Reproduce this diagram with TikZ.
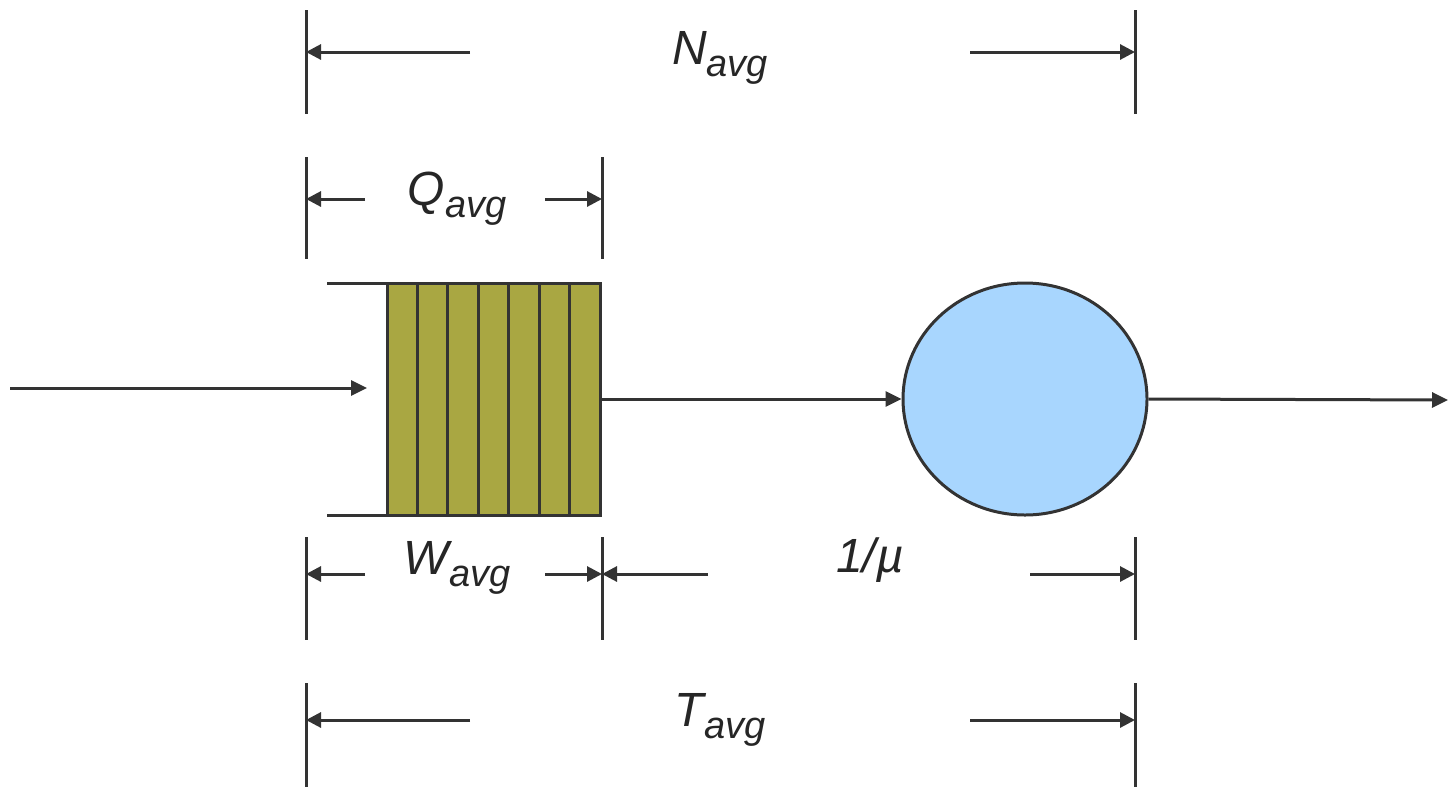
\documentclass[tikz,border=0pt]{standalone}
\usepackage{fontspec}
\setmainfont{Liberation Sans}
\usetikzlibrary{shapes.geometric, arrows.meta, positioning}

\definecolor{lineGray}{RGB}{51,51,51}
\definecolor{queueOlive}{RGB}{169,167,66}
\definecolor{serverBlue}{RGB}{168,214,254}

\newcommand{\dimlabel}[2]{\textit{\fontsize{48}{50}\selectfont #1\raisebox{-12pt}{\fontsize{38}{40}\selectfont #2}}}

\begin{document}
\begin{tikzpicture}[x=1pt, y=-1pt, color=lineGray,
        tick/.style={line width=3pt},
        dim/.style={-{Triangle[length=15pt,width=15pt]}, line width=3pt},
        flow/.style={-{Triangle[length=16pt,width=15pt]}, line width=3pt},
        lbl/.style={inner sep=0pt, text=black!85},
        queue/.style={rectangle, draw, fill=queueOlive, line width=3pt, outer sep=0pt,
            minimum width=213pt, minimum height=232pt, inner sep=0pt},
        server/.style={ellipse, draw, fill=serverBlue, line width=3pt,
            minimum width=244pt, minimum height=232pt, inner sep=0pt}
        ]
        \useasboundingbox (0,0) rectangle (1450,788);

        %% Queue and server
        \node[queue] (Q) at (493.5,399) {};
        \foreach \i in {1,...,6}
            \draw[tick] (387+\i*30.43,283) -- (387+\i*30.43,515);
        \draw[tick] (327,283) -- (Q.north west);
        \draw[tick] (327,515) -- (Q.south west);
        \node[server] (S) at (1025,399) {};

        %% Flow
        \coordinate (src) at (10,388);
        \coordinate (inEnd) at (367,388);
        \coordinate (sink) at (1448,400);
        \draw[flow] (src) -- (inEnd);
        \draw[flow] (Q.east) -- (S.west);
        \draw[flow] (S.east) -- (sink);

        %% Ticks
        \draw[tick] (306,10)   -- (306,114);
        \draw[tick] (1135,10)  -- (1135,114);
        \draw[tick] (306,157)  -- (306,259);
        \draw[tick] (602,157)  -- (602,259);
        \draw[tick] (306,537)  -- (306,640);
        \draw[tick] (602,537)  -- (602,640);
        \draw[tick] (1135,537) -- (1135,640);
        \draw[tick] (306,683)  -- (306,787);
        \draw[tick] (1135,683) -- (1135,787);

        %% ---- N_avg ----
        \coordinate (nL) at (306,52);   \coordinate (nLs) at (470,52);
        \coordinate (nR) at (1135,52);  \coordinate (nRs) at (970,52);
        \draw[dim] (nLs) -- (nL);
        \draw[dim] (nRs) -- (nR);
        \node[lbl] (nLbl) at (720,58) {\dimlabel{N}{avg}};

        %% ---- Q_avg ----
        \coordinate (qL) at (306,199);  \coordinate (qLs) at (365,199);
        \coordinate (qR) at (602,199);  \coordinate (qRs) at (545,199);
        \draw[dim] (qLs) -- (qL);
        \draw[dim] (qRs) -- (qR);
        \node[lbl] (qLbl) at (457,199) {\dimlabel{Q}{avg}};

        %% ---- W_avg ----
        \coordinate (wL) at (306,574);  \coordinate (wLs) at (365,574);
        \coordinate (wR) at (602,574);  \coordinate (wRs) at (545,574);
        \draw[dim] (wLs) -- (wL);
        \draw[dim] (wRs) -- (wR);
        \node[lbl] (wLbl) at (457,568) {\dimlabel{W}{avg}};

        %% ---- 1/mu ----
        \coordinate (mL) at (602,574);  \coordinate (mLs) at (708,574);
        \coordinate (mR) at (1135,574); \coordinate (mRs) at (1030,574);
        \draw[dim] (mLs) -- (mL);
        \draw[dim] (mRs) -- (mR);
        \node[lbl] (mLbl) at (870,560) {\textit{\fontsize{48}{50}\selectfont 1/\textmu}};

        %% ---- T_avg ----
        \coordinate (tL) at (306,720);  \coordinate (tLs) at (470,720);
        \coordinate (tR) at (1135,720); \coordinate (tRs) at (970,720);
        \draw[dim] (tLs) -- (tL);
        \draw[dim] (tRs) -- (tR);
        \node[lbl] (tLbl) at (720,720) {\dimlabel{T}{avg}};

    \end{tikzpicture}
\end{document}
